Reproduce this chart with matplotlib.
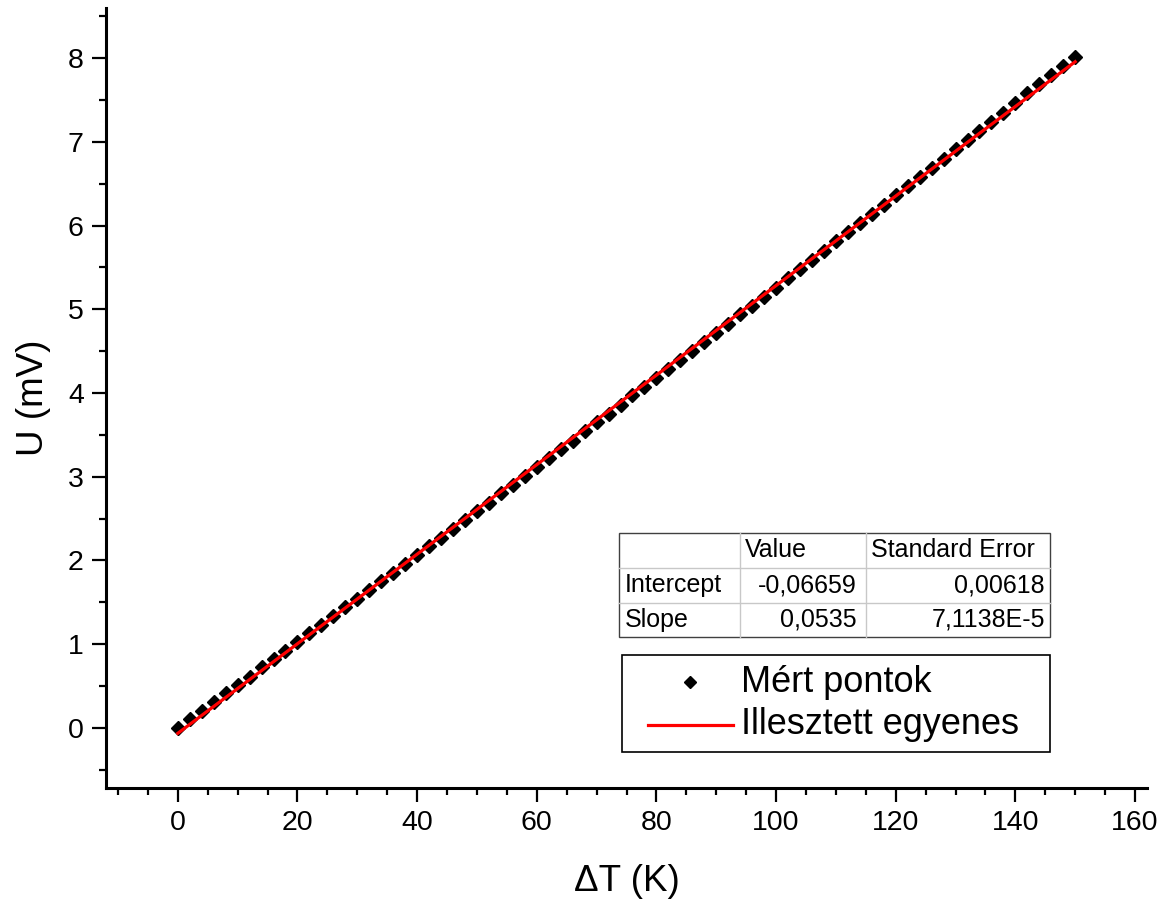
import matplotlib.pyplot as plt
from matplotlib.lines import Line2D
from matplotlib.patches import Rectangle
from matplotlib.ticker import MultipleLocator

plt.rcParams['font.family'] = ['Liberation Sans', 'DejaVu Sans']

# measured temperature differences (K) and thermovoltages (mV)
delta_t = [0, 2, 4, 6, 8, 10, 12, 14, 16, 18, 20, 22, 24, 26, 28, 30, 32, 34, 36, 38,
           40, 42, 44, 46, 48, 50, 52, 54, 56, 58, 60, 62, 64, 66, 68, 70, 72, 74, 76, 78,
           80, 82, 84, 86, 88, 90, 92, 94, 96, 98, 100, 102, 104, 106, 108, 110, 112, 114,
           116, 118, 120, 122, 124, 126, 128, 130, 132, 134, 136, 138, 140, 142, 144, 146,
           148, 150]
voltage = [0.00, 0.10, 0.20, 0.31, 0.41, 0.51, 0.61, 0.72, 0.82, 0.92, 1.02, 1.13, 1.23,
           1.33, 1.44, 1.54, 1.65, 1.75, 1.85, 1.96, 2.06, 2.17, 2.27, 2.38, 2.48, 2.59,
           2.69, 2.80, 2.90, 3.01, 3.11, 3.22, 3.33, 3.43, 3.54, 3.65, 3.75, 3.86, 3.97,
           4.07, 4.18, 4.29, 4.40, 4.50, 4.61, 4.72, 4.83, 4.94, 5.04, 5.15, 5.26, 5.37,
           5.48, 5.59, 5.70, 5.81, 5.92, 6.03, 6.14, 6.25, 6.36, 6.47, 6.58, 6.69, 6.80,
           6.91, 7.02, 7.13, 7.24, 7.35, 7.47, 7.58, 7.69, 7.80, 7.91, 8.02]

# linear fit results
intercept = -0.06659
intercept_err = "0,00618"
slope = 0.0535
slope_err = "7,1138E-5"

W, H = 1166, 907
fig = plt.figure(figsize=(W / 100, H / 100), dpi=100)
ax = fig.add_axes([106 / W, 1 - 788 / H, (1147 - 106) / W, (788 - 8) / H])


def px(x, y):
    return x / W, 1 - y / H


fit_x = [delta_t[0], delta_t[-1]]
fit_y = [intercept + slope * x for x in fit_x]

ax.plot(delta_t, voltage, ls='none', marker='D', ms=7.5, color='black', zorder=2)
ax.plot(fit_x, fit_y, color='#ff0000', lw=2.3, zorder=3)

ax.set_xlim(-12, 162)
ax.set_ylim(-0.72, 8.6)
ax.xaxis.set_major_locator(MultipleLocator(20))
ax.xaxis.set_minor_locator(MultipleLocator(5))
ax.yaxis.set_major_locator(MultipleLocator(1))
ax.yaxis.set_minor_locator(MultipleLocator(0.5))
for side in ('top', 'right'):
    ax.spines[side].set_visible(False)
for side in ('left', 'bottom'):
    ax.spines[side].set_linewidth(2.2)
ax.tick_params(which='major', length=10, width=1.6, labelsize=20.5, pad=6)
ax.tick_params(which='minor', length=5, width=1.6)

ax.set_xlabel('ΔT (K)', fontsize=26.5, labelpad=20)
ax.set_ylabel('U (mV)', fontsize=26.5, labelpad=12)

# fit parameter table
tl, tr = 619, 1050
tt, tb = 533, 637
col_x = [740, 866]
row_y = [568, 603]
for cx in col_x:
    fig.add_artist(Line2D(*zip(px(cx, tt), px(cx, tb)), color='#c8c8c8', lw=1))
for ry in row_y:
    fig.add_artist(Line2D(*zip(px(tl, ry), px(tr, ry)), color='#c8c8c8', lw=1))
x0, y0 = px(tl, tb)
x1, y1 = px(tr, tt)
fig.add_artist(Rectangle((x0, y0), x1 - x0, y1 - y0, fill=False,
                         edgecolor='#404040', lw=1))

cells = [
    (745, 550, 'Value', 'left'),
    (871, 550, 'Standard Error', 'left'),
    (625, 585, 'Intercept', 'left'),
    (857, 585, f'{intercept:.5f}'.replace('.', ','), 'right'),
    (1045, 585, intercept_err, 'right'),
    (625, 620, 'Slope', 'left'),
    (857, 620, f'{slope:.4f}'.replace('.', ','), 'right'),
    (1045, 620, slope_err, 'right'),
]
for cx, cy, s, ha in cells:
    fig.text(*px(cx, cy), s, fontsize=18, ha=ha, va='center')

# legend box
lx0, ly0 = px(622, 752)
lx1, ly1 = px(1050, 655)
fig.add_artist(Rectangle((lx0, ly0), lx1 - lx0, ly1 - ly0, fill=False,
                         edgecolor='black', lw=1.2))
fig.add_artist(Line2D([px(690, 682)[0]], [px(690, 682)[1]], marker='D', ms=6,
                      color='black', ls='none'))
fig.add_artist(Line2D(*zip(px(648, 725), px(733, 725)), color='#ff0000', lw=2.3))
fig.text(*px(741, 683), 'Mért pontok', fontsize=26, ha='left', va='center')
fig.text(*px(741, 725), 'Illesztett egyenes', fontsize=26, ha='left', va='center')

fig.savefig('out.png', dpi=100)
